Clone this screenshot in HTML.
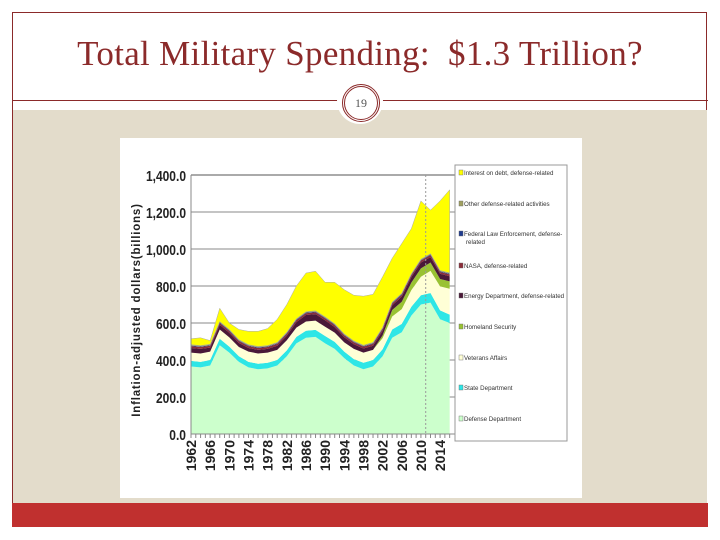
<!DOCTYPE html>
<html><head><meta charset="utf-8"><style>
body{margin:0;width:720px;height:540px;background:#fff;position:relative;overflow:hidden;font-family:"Liberation Sans",sans-serif}
.abs{position:absolute}
</style></head><body>
<div class="abs" style="left:12px;top:12px;width:695px;height:515px;border:1px solid #8b2a2a;box-sizing:border-box"></div>
<div class="abs" style="left:12px;top:34px;width:696px;text-align:center;font-family:'Liberation Serif',serif;font-size:35px;color:#8b2a2a;letter-spacing:0.3px">Total Military Spending:&nbsp; $1.3 Trillion?</div>
<div class="abs" style="left:13px;top:110px;width:694px;height:393px;background:#e3dccb"></div>
<div class="abs" style="left:12px;top:100px;width:696px;height:1px;background:#8b2a2a"></div>
<div class="abs" style="left:12px;top:503px;width:696px;height:24px;background:#c0302f"></div>
<div class="abs" style="left:337px;top:78px;width:46px;height:46px;border-radius:50%;background:#fff"></div>
<div class="abs" style="left:342px;top:84px;width:32px;height:32px;border-radius:50%;border:3px double #8b2a2a;text-align:center;line-height:32px;font-family:'Liberation Serif',serif;font-size:12px;color:#555">19</div>

<svg class="abs" style="left:120px;top:138px" width="462" height="360" id="chart"></svg>
<script>
const years=[1962,1964,1966,1968,1970,1972,1974,1976,1978,1980,1982,1984,1986,1988,1990,1992,1994,1996,1998,2000,2002,2004,2006,2008,2010,2012,2014,2016];
const defense=[365,360,370,480,440,390,360,350,355,370,420,490,520,525,490,460,410,370,350,365,420,520,550,640,700,710,620,600];
const state=[30,30,30,35,32,30,30,30,30,30,32,35,38,38,40,38,35,35,35,35,38,45,45,48,50,52,48,45];
const veterans=[45,45,45,50,50,50,55,55,55,55,55,50,50,50,50,50,50,55,55,55,60,70,80,90,100,120,130,140];
const homeland=[0,0,0,0,0,0,0,0,0,0,0,0,0,0,0,0,0,0,0,0,15,35,40,40,45,45,40,40];
const energy=[25,25,22,25,25,22,20,20,20,22,25,30,35,35,35,30,28,25,22,22,25,25,28,30,32,30,28,28];
const nasa=[10,10,10,10,10,10,10,10,10,10,10,10,10,10,10,10,10,10,10,10,10,10,10,10,10,10,10,10];
const fedLaw=[3,3,3,3,3,3,3,3,3,3,3,3,3,3,3,3,3,3,3,3,3,3,3,3,3,3,3,3];
const other=[5,5,5,5,5,5,5,5,5,5,5,5,5,5,5,5,5,5,5,5,5,5,5,5,5,5,5,5];
const interest=[32,42,20,72,35,55,72,82,92,125,150,177,209,214,187,224,239,247,265,260,274,237,269,244,315,235,376,449];
const yTicks=[0,200,400,600,800,1000,1200,1400];
const xTickYears=[1962,1966,1970,1974,1978,1982,1986,1990,1994,1998,2002,2006,2010,2014];
const seriesNames=["Defense Department","State Department","Veterans Affairs","Homeland Security","Energy Department, defense-related","NASA, defense-related","Federal Law Enforcement, defense-related","Other defense-related activities","Interest on debt, defense-related"];
const seriesData=[defense,state,veterans,homeland,energy,nasa,fedLaw,other,interest];
const colors=["#ccffcc","#2ee6e6","#ffffd6","#99c233","#4a1838","#8b2d3a","#1f3b8f","#a0a060","#ffff00"];
const NS="http://www.w3.org/2000/svg";
const svg=document.getElementById('chart');
function el(t,a,p){const e=document.createElementNS(NS,t);for(const k in a)e.setAttribute(k,a[k]);(p||svg).appendChild(e);return e;}
const X0=71,Y0=296,PX=4.79,PY=259/1400;
const xs=y=>X0+(y-1962)*PX, ys=v=>Y0-v*PY;
el('rect',{x:0,y:0,width:462,height:360,fill:'#fff'});
yTicks.forEach(t=>{
 const g=el('line',{x1:X0,x2:335,y1:ys(t),y2:ys(t),stroke:t==1400?'#aaa':'#888','stroke-width':t==1400?2:1});
 
 const l=el('text',{y:ys(t)+6,'text-anchor':'end','font-size':15,'font-weight':'bold',fill:'#222',transform:`scale(0.8,1)`});
 l.setAttribute('x',(X0-5)/0.8);
 l.textContent=t.toLocaleString('en-US',{minimumFractionDigits:1});
 
});
let base=years.map(()=>0);
seriesData.forEach((s,i)=>{
 const top=base.map((b,j)=>b+s[j]);
 let d='M'+years.map((y,j)=>xs(y)+','+ys(top[j])).join('L');
 for(let j=years.length-1;j>=0;j--)d+='L'+xs(years[j])+','+ys(base[j]);
 const p=el('path',{d:d+'Z',fill:colors[i],stroke:i==8?'#aaa':'none','stroke-width':0.5});
 
 
 base=top;
});
const vl=el('line',{x1:xs(2011),x2:xs(2011),y1:ys(1400),y2:Y0,stroke:'#999','stroke-dasharray':'2,2'});

el('line',{x1:X0,x2:X0,y1:ys(1400),y2:Y0,stroke:'#888'});
el('line',{x1:X0,x2:332,y1:Y0,y2:Y0,stroke:'#888'});
for(let y=1962;y<=2016;y++)el('line',{x1:xs(y),x2:xs(y),y1:Y0,y2:Y0+4,stroke:'#888'});
xTickYears.forEach(y=>{
 const t=el('text',{x:0,y:0,'text-anchor':'end','font-size':14,'font-weight':'bold',fill:'#222',transform:`translate(${xs(y)+5},${Y0+6}) rotate(-90)`});
 t.textContent=y;
 
});
const yt=el('text',{x:0,y:0,'text-anchor':'middle','font-size':11.5,'font-weight':'bold',fill:'#222','letter-spacing':'0.8',transform:`translate(20,172) rotate(-90)`});
yt.textContent='Inflation-adjusted  dollars(billions)';

const lg=el('rect',{x:335,y:27,width:112,height:276,fill:'#fff',stroke:'#999'});

const legY=[37,68,98,130,160,191,222,252,283];
for(let k=0;k<9;k++){
 const i=8-k;
 el('rect',{x:339,y:legY[k]-5,width:4,height:5,fill:colors[i],stroke:'#666','stroke-width':0.4});
 const t=el('text',{x:344,y:legY[k],'font-size':6.2,fill:'#333'});
 t.textContent=seriesNames[i];
 if(i==6){t.textContent='Federal Law Enforcement, defense-';const t2=el('text',{x:346,y:legY[k]+8,'font-size':6.2,fill:'#333'});t2.textContent='related';}
 
}
</script>
</body></html>
